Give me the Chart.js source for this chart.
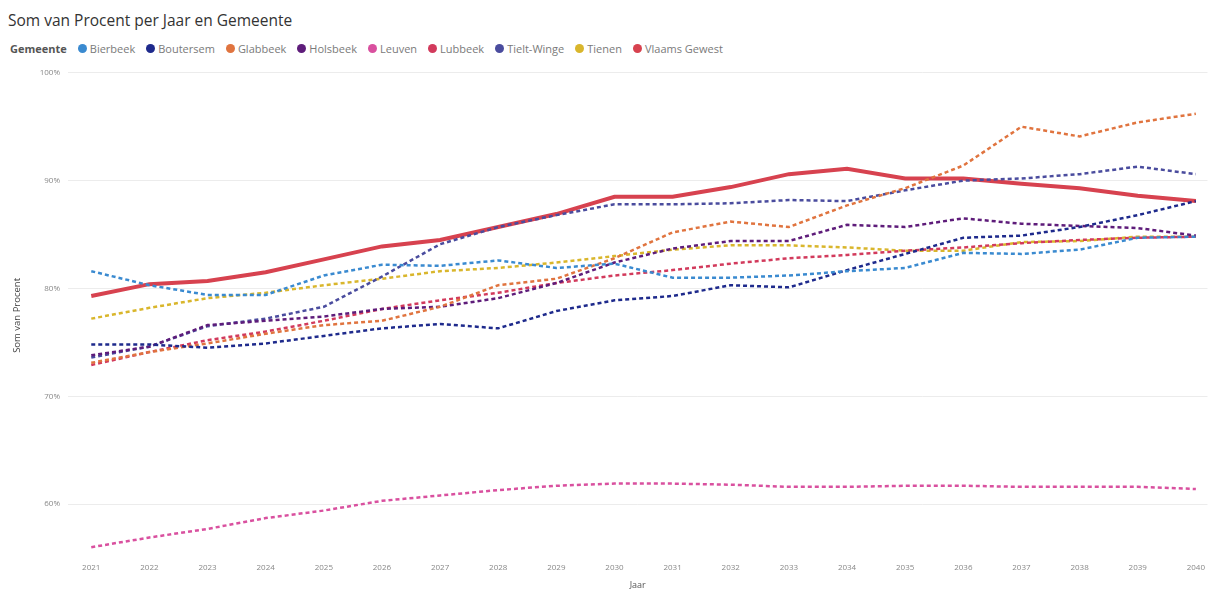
<!DOCTYPE html>
<html lang="nl">
<head>
  <meta charset="UTF-8">
  <title>Som van Procent per Jaar en Gemeente</title>
  <script src="https://cdn.jsdelivr.net/npm/chart.js"></script>
  <style>
    body {
      margin: 0;
      background: #fff;
      font-family: 'Open Sans', sans-serif;
      width: 1210px;
      height: 589px;
      overflow: hidden;
      position: relative;
    }
    .title {
      position: absolute;
      left: 8px;
      top: 9px;
      font-size: 15.5px;
      color: #333;
    }
    .legend {
      position: absolute;
      left: 10px;
      top: 41px;
      font-size: 11px;
      color: #7a7a7a;
      display: flex;
      align-items: center;
      white-space: nowrap;
    }
    .legend b { color: #555; margin-right: 11px; }
    .legend .item { display: flex; align-items: center; margin-right: 11px; }
    .legend i {
      width: 9px; height: 9px; border-radius: 50%;
      display: inline-block; margin-right: 3px;
    }
    .wrap { position: absolute; left: 0; top: 60px; }
  </style>
</head>
<body>
  <div class="title">Som van Procent per Jaar en Gemeente</div>
  <div class="legend" id="legend"><b>Gemeente</b></div>
  <div class="wrap"><canvas id="chart" width="1210" height="529"></canvas></div>

  <script>
    const years = [2021, 2022, 2023, 2024, 2025, 2026, 2027, 2028, 2029, 2030,
                   2031, 2032, 2033, 2034, 2035, 2036, 2037, 2038, 2039, 2040];
    const yTicks = [60, 70, 80, 90, 100];

    const gemeenten = ['Bierbeek', 'Boutersem', 'Glabbeek', 'Holsbeek', 'Leuven',
                       'Lubbeek', 'Tielt-Winge', 'Tienen', 'Vlaams Gewest'];
    const colors = ['#3A8AD0', '#1E2A8C', '#E0743F', '#5E1C7A', '#D9509F',
                    '#D23A5C', '#4A4C9E', '#D9B62C', '#D7424F'];

    const bierbeek   = [81.6, 80.3, 79.4, 79.4, 81.2, 82.2, 82.1, 82.6, 81.9, 82.3,
                        81.0, 81.0, 81.2, 81.6, 81.9, 83.3, 83.2, 83.6, 84.7, 84.8];
    const boutersem  = [74.8, 74.8, 74.5, 74.9, 75.6, 76.3, 76.7, 76.3, 77.9, 78.9,
                        79.3, 80.3, 80.1, 81.7, 83.2, 84.7, 84.9, 85.7, 86.8, 88.1];
    const glabbeek   = [73.1, 74.1, 74.9, 75.8, 76.6, 77.0, 78.3, 80.3, 80.9, 82.8,
                        85.2, 86.2, 85.7, 87.7, 89.3, 91.4, 95.0, 94.1, 95.4, 96.2];
    const holsbeek   = [73.8, 74.6, 76.6, 77.0, 77.4, 78.1, 78.3, 79.1, 80.5, 82.4,
                        83.7, 84.4, 84.4, 85.9, 85.7, 86.5, 86.0, 85.8, 85.6, 84.9];
    const leuven     = [56.0, 56.9, 57.7, 58.7, 59.4, 60.3, 60.8, 61.3, 61.7, 61.9,
                        61.9, 61.8, 61.6, 61.6, 61.7, 61.7, 61.6, 61.6, 61.6, 61.4];
    const lubbeek    = [72.9, 74.1, 75.2, 76.0, 77.0, 78.1, 78.9, 79.6, 80.5, 81.2,
                        81.7, 82.3, 82.8, 83.1, 83.5, 83.8, 84.2, 84.5, 84.7, 84.8];
    const tieltWinge = [73.6, 74.6, 76.5, 77.2, 78.3, 81.1, 84.1, 85.7, 86.8, 87.8,
                        87.8, 87.9, 88.2, 88.1, 89.1, 90.0, 90.2, 90.6, 91.3, 90.6];
    const tienen     = [77.2, 78.2, 79.1, 79.6, 80.3, 80.9, 81.6, 81.9, 82.4, 83.0,
                        83.6, 84.0, 84.0, 83.8, 83.5, 83.5, 84.3, 84.4, 84.8, 84.8];
    const vlaams     = [79.3, 80.4, 80.7, 81.5, 82.7, 83.9, 84.5, 85.7, 86.9, 88.5,
                        88.5, 89.4, 90.6, 91.1, 90.2, 90.2, 89.7, 89.3, 88.6, 88.1];

    const series = [bierbeek, boutersem, glabbeek, holsbeek, leuven,
                    lubbeek, tieltWinge, tienen, vlaams];

    // legend in html, like the Power BI header row
    const legend = document.getElementById('legend');
    gemeenten.forEach((name, i) => {
      const item = document.createElement('span');
      item.className = 'item';
      item.innerHTML = '<i style="background:' + colors[i] + '"></i>' + name;
      legend.appendChild(item);
    });

    const datasets = gemeenten.map((name, i) => {
      const solid = name === 'Vlaams Gewest';
      return {
        label: name,
        data: years.map((yr, j) => ({ x: yr, y: series[i][j] })),
        borderColor: colors[i],
        backgroundColor: colors[i],
        borderWidth: solid ? 4 : 2.5,
        borderDash: solid ? [] : [4, 3],
        pointRadius: 0,
        tension: 0,
        order: solid ? 10 : 0
      };
    });

    const axisFont = { family: "'Open Sans', sans-serif", size: 8 };

    new Chart(document.getElementById('chart'), {
      type: 'line',
      data: { datasets: datasets },
      options: {
        responsive: false,
        animation: false,
        layout: { padding: { top: 12, right: 0, left: 0, bottom: 0 } },
        plugins: {
          legend: { display: false },
          tooltip: { enabled: false }
        },
        scales: {
          x: {
            type: 'linear',
            min: 2020.6,
            max: 2040.2,
            afterBuildTicks: scale => { scale.ticks = years.map(v => ({ value: v })); },
            afterFit: scale => { scale.height = 31; },
            grid: { display: false, drawTicks: false },
            border: { display: false },
            ticks: {
              color: '#888',
              font: axisFont,
              padding: 5,
              maxRotation: 0,
              callback: v => String(v)
            },
            title: {
              display: true,
              text: 'Jaar',
              color: '#555',
              font: { family: "'Open Sans', sans-serif", size: 9 },
              padding: { top: 2, bottom: -2 }
            }
          },
          y: {
            min: 55,
            max: 100,
            afterBuildTicks: scale => { scale.ticks = yTicks.map(v => ({ value: v })); },
            afterFit: scale => { scale.width = 68; },
            grid: { color: '#ececec', lineWidth: 1, drawTicks: false },
            border: { display: false },
            ticks: {
              color: '#888',
              font: axisFont,
              padding: 8,
              callback: v => v + '%'
            },
            title: {
              display: true,
              text: 'Som van Procent',
              color: '#444',
              font: { family: "'Open Sans', sans-serif", size: 9.5 },
              padding: { top: 12, bottom: 4 }
            }
          }
        }
      }
    });
  </script>
</body>
</html>
